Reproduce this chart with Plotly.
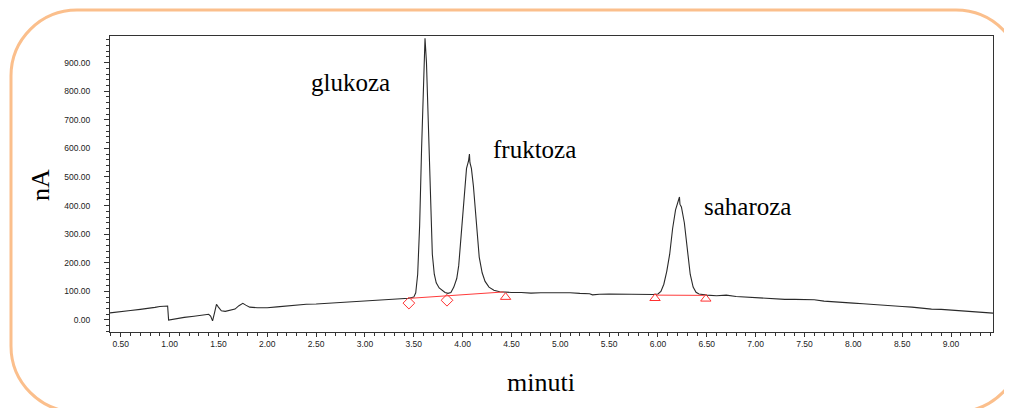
import plotly.graph_objects as go

# ---- data ----
time_min = [
    0.39, 0.50, 0.60, 0.70, 0.80, 0.85, 0.90, 0.97, 0.98, 0.99, 1.05, 1.15, 1.25, 1.35, 1.40,
    1.42, 1.44, 1.46, 1.48, 1.50, 1.53, 1.57, 1.62, 1.67, 1.71, 1.75, 1.78, 1.82, 1.90, 2.00,
    2.10, 2.20, 2.30, 2.40, 2.50, 2.60, 2.70, 2.80, 2.90, 3.00, 3.10, 3.20, 3.30, 3.40, 3.45,
    3.50, 3.52, 3.54, 3.56, 3.58, 3.60, 3.615, 3.63, 3.65, 3.67, 3.69, 3.71, 3.73, 3.76, 3.79,
    3.82, 3.85, 3.88, 3.91, 3.94, 3.96, 3.98, 4.00, 4.02, 4.04, 4.06, 4.07, 4.075, 4.09, 4.11,
    4.13, 4.15, 4.17, 4.20, 4.23, 4.27, 4.32, 4.38, 4.45, 4.50, 4.60, 4.70, 4.80, 4.90, 5.00,
    5.10, 5.20, 5.30, 5.33, 5.36, 5.40, 5.50, 5.60, 5.70, 5.80, 5.90, 5.95, 6.00, 6.03, 6.06,
    6.09, 6.12, 6.15, 6.18, 6.20, 6.22, 6.225, 6.24, 6.27, 6.30, 6.33, 6.36, 6.39, 6.42, 6.46,
    6.50, 6.60, 6.70, 6.80, 6.90, 7.00, 7.10, 7.20, 7.30, 7.40, 7.50, 7.60, 7.70, 7.80, 7.90,
    8.00, 8.10, 8.20, 8.30, 8.40, 8.50, 8.60, 8.70, 8.80, 8.90, 9.00, 9.10, 9.20, 9.30, 9.43,
]
signal_nA = [
    25, 28, 33, 37, 40, 44, 47, 49, 49, 0, 4, 9, 13, 18, 20,
    14, -3, 25, 55, 45, 32, 30, 35, 38, 50, 58, 52, 45, 43, 43,
    46, 49, 54, 55, 56, 58, 60, 62, 64, 67, 68, 70, 72, 74, 76,
    80, 95, 160, 330, 600, 880, 985, 900, 650, 400, 230, 160, 130, 112, 103,
    96, 93, 96, 115, 145, 190, 270, 370, 460, 530, 555, 580, 550, 530, 470,
    380, 290, 220, 165, 135, 115, 104, 99, 97, 96, 96, 94, 95, 95, 96,
    95, 93, 92, 88, 90, 90, 91, 90, 91, 90, 89, 89, 91, 100, 125,
    170, 230, 320, 385, 405, 430, 405, 395, 340, 240, 160, 115, 97, 91, 88,
    87, 85, 87, 82, 80, 77, 75, 73, 72, 72, 71, 71, 66, 63, 61,
    59, 57, 54, 52, 50, 47, 45, 41, 38, 37, 35, 33, 30, 27, 24,
]

# integration baselines (red)
baseline1_t = [3.47, 4.42]
baseline1_v = [76, 98]
baseline2_t = [5.98, 6.47]
baseline2_v = [87, 86]

# integration markers
diamond_t = [3.45, 3.84]
diamond_v = [59, 69]
triangle_t = [4.44, 5.97, 6.49]
triangle_v = [80, 76, 74]

peak_names = ["glukoza", "fruktoza", "saharoza"]

x_ticks = [0.5 * i for i in range(1, 19)]
y_ticks = [100 * i for i in range(0, 10)]

# ---- layout geometry (page pixels; the page body adds an 8px offset) ----
OFF = 8
W, H = 1012 - OFF, 408 - OFF
L, R, T, B = 110, 993, 36, 332  # plot area in page pixels


def px_to_paper(px, py):
    return (px - L) / (R - L), (B - py) / (B - T)


fig = go.Figure()

fig.add_trace(go.Scatter(x=time_min, y=signal_nA, mode="lines",
                         line=dict(color="#2a2a2a", width=1.1), hoverinfo="skip"))
fig.add_trace(go.Scatter(x=baseline1_t, y=baseline1_v, mode="lines",
                         line=dict(color="#ff3b3b", width=1)))
fig.add_trace(go.Scatter(x=baseline2_t, y=baseline2_v, mode="lines",
                         line=dict(color="#ff3b3b", width=1)))
fig.add_trace(go.Scatter(x=diamond_t, y=diamond_v, mode="markers",
                         marker=dict(symbol="diamond-open", size=9, color="#ff3030",
                                     line=dict(width=1))))
fig.add_trace(go.Scatter(x=triangle_t, y=triangle_v, mode="markers",
                         marker=dict(symbol="triangle-up-open", size=9, color="#ff3030",
                                     line=dict(width=1))))

# peak labels
label_px = [(350, 82), (534, 149), (747, 207)]
annotations = []
for name, (lx, ly) in zip(peak_names, label_px):
    ax, ay = px_to_paper(lx, ly)
    annotations.append(dict(text=name, x=ax, y=ay, xref="paper", yref="paper",
                            showarrow=False, xanchor="center", yanchor="middle",
                            font=dict(family="Liberation Serif", size=25, color="#000")))

# axis titles
tx, ty = px_to_paper(40, 185)
annotations.append(dict(text="nA", x=tx, y=ty, xref="paper", yref="paper", showarrow=False,
                        textangle=-90, xanchor="center", yanchor="middle",
                        font=dict(family="Liberation Serif", size=26, color="#000")))
tx, ty = px_to_paper(541, 382)
annotations.append(dict(text="minuti", x=tx, y=ty, xref="paper", yref="paper", showarrow=False,
                        xanchor="center", yanchor="middle",
                        font=dict(family="Liberation Serif", size=26, color="#000")))

# rounded orange frame (page pixels)
bl, bt, br, bb, rad = 11, 10, 1022, 412, 66
k = 0.5523 * rad


def P(px, py):
    x, y = px_to_paper(px, py)
    return f"{x:.5f},{y:.5f}"


path = (
    f"M {P(bl + rad, bt)} L {P(br - rad, bt)} "
    f"C {P(br - rad + k, bt)} {P(br, bt + rad - k)} {P(br, bt + rad)} "
    f"L {P(br, bb - rad)} "
    f"C {P(br, bb - rad + k)} {P(br - rad + k, bb)} {P(br - rad, bb)} "
    f"L {P(bl + rad, bb)} "
    f"C {P(bl + rad - k, bb)} {P(bl, bb - rad + k)} {P(bl, bb - rad)} "
    f"L {P(bl, bt + rad)} "
    f"C {P(bl, bt + rad - k)} {P(bl + rad - k, bt)} {P(bl + rad, bt)} Z"
)

fig.update_layout(
    width=W, height=H,
    margin=dict(l=L - OFF, r=(W + OFF) - R, t=T - OFF, b=(H + OFF) - B, pad=0),
    paper_bgcolor="white", plot_bgcolor="white",
    showlegend=False,
    annotations=annotations,
    shapes=[dict(type="path", path=path, xref="paper", yref="paper",
                 line=dict(color="#fbbf8c", width=3), layer="below")],
)

tick_font = dict(family="Liberation Sans", size=8.5, color="#222")
fig.update_xaxes(
    range=[0.39, 9.43], tickvals=x_ticks, ticktext=[f"{v:.2f}" for v in x_ticks],
    showgrid=False, zeroline=False, showline=True, linecolor="#333", linewidth=1,
    mirror=True, ticks="outside", ticklen=4, tickcolor="#333", tickfont=tick_font,
    minor=dict(dtick=0.1, tick0=0.0, ticks="outside", ticklen=3, tickcolor="#333",
               showgrid=False),
)
fig.update_yaxes(
    range=[-42, 993], tickvals=y_ticks, ticktext=[f"{v:.2f}" for v in y_ticks],
    showgrid=False, zeroline=False, showline=True, linecolor="#333", linewidth=1,
    mirror=True, ticks="outside", ticklen=5, tickcolor="#333", tickfont=tick_font,
    ticklabelstandoff=12,
    minor=dict(dtick=20, tick0=0, ticks="outside", ticklen=3, tickcolor="#333",
               showgrid=False),
)

fig.write_html("out.html")
